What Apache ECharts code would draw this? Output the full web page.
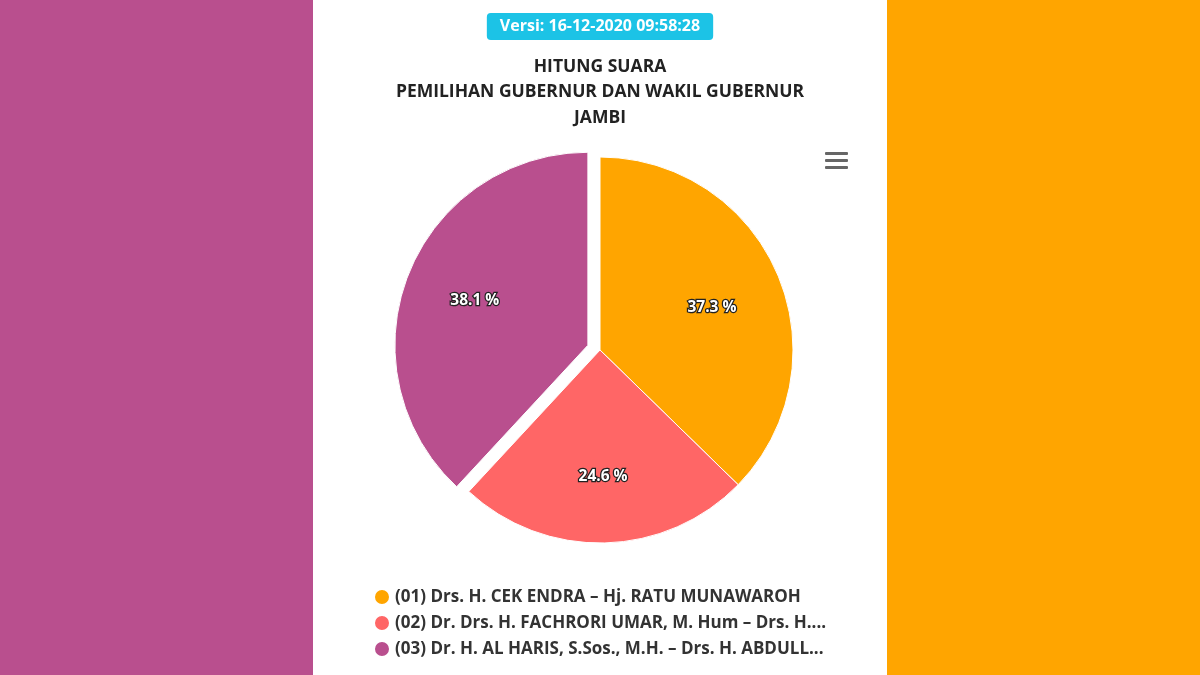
<!DOCTYPE html>
<html><head><meta charset="utf-8">
<script src="https://cdn.jsdelivr.net/npm/echarts@6/dist/echarts.min.js"></script>
<style>html,body{margin:0;padding:0;background:#fff}#c{width:1200px;height:675px}</style>
</head><body><div id="c"></div>
<script>
const candidates = [
  "(01) Drs. H. CEK ENDRA – Hj. RATU MUNAWAROH",
  "(02) Dr. Drs. H. FACHRORI UMAR, M. Hum – Drs. H....",
  "(03) Dr. H. AL HARIS, S.Sos., M.H. – Drs. H. ABDULL..."
];
const shares = [37.3, 24.6, 38.1];
const colors = ["#FFA500", "#FF6666", "#B94F8E"];
const explodedIndex = 2;
const versionText = "Versi: 16-12-2020 09:58:28";
const titleText = "HITUNG SUARA\nPEMILIHAN GUBERNUR DAN WAKIL GUBERNUR\nJAMBI";

const font = "'Open Sans', 'Noto Sans', sans-serif";
const data = candidates.map((n, i) => ({
  name: n, value: shares[i], selected: i === explodedIndex,
  itemStyle: { color: colors[i] }
}));
const labelData = candidates.map((n, i) => ({
  name: n, value: shares[i], selected: i === explodedIndex
}));

const chart = echarts.init(document.getElementById('c'), null, { renderer: 'canvas' });
chart.setOption({
  animation: false,
  backgroundColor: '#fff',
  color: colors,
  graphic: [
    { type: 'rect', z: -10, shape: { x: 0, y: 0, width: 313, height: 675 }, style: { fill: '#B94F8E' } },
    { type: 'rect', z: -10, shape: { x: 887, y: 0, width: 313, height: 675 }, style: { fill: '#FFA500' } },
    { type: 'rect', shape: { x: 825, y: 152, width: 23, height: 3, r: 1 }, style: { fill: '#666' } },
    { type: 'rect', shape: { x: 825, y: 159, width: 23, height: 3, r: 1 }, style: { fill: '#666' } },
    { type: 'rect', shape: { x: 825, y: 166, width: 23, height: 3, r: 1 }, style: { fill: '#666' } }
  ],
  title: [
    { text: versionText, left: 'center', top: 13, padding: [4, 13, 4, 13],
      backgroundColor: '#1CC3E6', borderRadius: 4,
      textStyle: { color: '#fff', fontWeight: 'bold', fontSize: 16, fontFamily: font, lineHeight: 19 } },
    { text: titleText, left: 600, top: 54, textAlign: 'center', padding: 0,
      textStyle: { color: '#222', fontWeight: 'bold', fontSize: 17.5, fontFamily: font, lineHeight: 25.5 } }
  ],
  legend: {
    orient: 'vertical', left: 368, top: 583, itemGap: 8, itemWidth: 16, itemHeight: 16,
    icon: 'circle', selectedMode: false,
    textStyle: { color: '#333', fontWeight: 'bold', fontSize: 17, lineHeight: 17, fontFamily: font, width: 480, overflow: 'truncate', ellipsis: '...' },
    data: candidates
  },
  series: [
    {
      type: 'pie', center: [600, 350], radius: [0, 193], startAngle: 90, clockwise: true,
      selectedMode: 'single', selectedOffset: 13, avoidLabelOverlap: false,
      itemStyle: { borderColor: '#fff', borderWidth: 1 },
      label: { show: false }, labelLine: { show: false },
      emphasis: { disabled: true },
      data: data
    },
    {
      type: 'pie', center: [600, 350], radius: [44, 193], startAngle: 90, clockwise: true,
      selectedMode: 'single', selectedOffset: 13, silent: true, avoidLabelOverlap: false,
      itemStyle: { color: 'rgba(0,0,0,0)', borderWidth: 0 },
      label: { show: true, position: 'inside', formatter: '{c} %', color: '#fff', fontWeight: 'bold',
        fontSize: 15.5, fontFamily: font, textBorderColor: '#222', textBorderWidth: 2.5, offset: [0, 5] },
      labelLine: { show: false },
      emphasis: { disabled: true },
      data: labelData
    }
  ]
});
</script></body></html>
